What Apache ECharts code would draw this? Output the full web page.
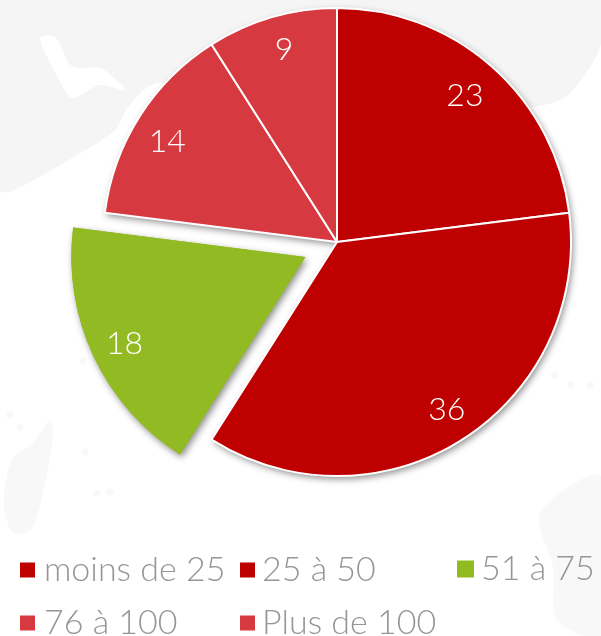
<!DOCTYPE html>
<html>
<head>
<meta charset="utf-8">
<style>
  html, body { margin: 0; padding: 0; background: #fff; }
  #chart { width: 601px; height: 636px; }
</style>
<script src="https://cdn.jsdelivr.net/npm/echarts@6/dist/echarts.min.js"></script>
</head>
<body>
<div id="chart"></div>
<script>
const categories = ['moins de 25', '25 à 50', '51 à 75', '76 à 100', 'Plus de 100']
const values = [23, 36, 18, 14, 9]
const colors = ['#bf0000', '#bf0000', '#92bb23', '#d63a40', '#d63a40']

const total = values.reduce((a, b) => a + b, 0)
const radius = 234
const labelRadius = 198 // labels sit near the rim
const labelNudge = [[-5, 4], [2, -2], [1, 1], [0, 7], [3, 1]]

// where each legend item goes: left, top, marker size, gap before the text
const legendSlots = [
  [20, 553, 15, 4],
  [240, 553, 15, 2],
  [457, 552, 17, 2],
  [20, 606, 15, 4],
  [240, 606, 15, 2],
]

// pale map behind the chart
const grey = '#f5f5f5'
const paleGrey = '#f8f8f8'
const mapShapes = [
  { fill: grey, points: [[0, 0], [601, 0], [601, 43], [590, 67], [565, 97], [533, 107], [450, 110], [337, 100], [158, 83], [128, 107], [115, 130], [60, 165], [10, 192], [0, 190]] },
  { fill: '#fff', points: [[40, 38], [55, 37], [72, 66], [100, 68], [112, 76], [125, 90], [100, 85], [72, 98], [62, 85]] },
  { fill: paleGrey, points: [[601, 477], [601, 636], [557, 620], [553, 567], [540, 513]] },
  { fill: paleGrey, points: [[50, 420], [53, 440], [33, 527], [13, 533], [4, 503], [12, 460], [33, 443]] },
]
const mapDots = [[85, 452], [97, 493], [110, 492], [10, 415], [20, 427], [555, 375], [571, 385], [590, 385], [83, 361]]

const chart = echarts.init(document.getElementById('chart'))

// running total gives each slice's middle angle, used to push its label outward
let running = 0
const midAngles = values.map((v) => {
  const mid = (running + v / 2) / total * Math.PI * 2
  running += v
  return mid
})

const pieBase = {
  type: 'pie',
  center: [337, 242],
  radius: [0, radius],
  startAngle: 90,
  selectedMode: 'multiple',
  selectedOffset: 35,
  emphasis: { disabled: true },
}

const graphicShapes = mapShapes.map((s) => ({
  type: 'polygon',
  z: -10,
  silent: true,
  shape: { points: s.points, smooth: 0.3 },
  style: { fill: s.fill },
}))
const graphicDots = mapDots.map((d) => ({
  type: 'circle',
  z: -10,
  silent: true,
  shape: { cx: d[0], cy: d[1], r: 3.5 },
  style: { fill: paleGrey },
}))

chart.setOption({
  animation: false,
  backgroundColor: '#fff',
  graphic: graphicShapes.concat(graphicDots),
  legend: categories.map((name, i) => ({
    data: [name],
    left: legendSlots[i][0],
    top: legendSlots[i][1],
    padding: 0,
    icon: 'rect',
    itemWidth: legendSlots[i][2],
    itemHeight: legendSlots[i][2],
    itemGap: 0,
    selectedMode: false,
    textStyle: {
      color: '#969696',
      fontFamily: 'Lato',
      fontWeight: 300,
      fontSize: 34,
      padding: [2, 0, 0, legendSlots[i][3]],
    },
  })),
  series: [
    // back layer carries the shadow, so it never falls on a neighbouring slice
    Object.assign({}, pieBase, {
      silent: true,
      label: { show: false },
      labelLine: { show: false },
      data: categories.map((name, i) => ({
        name,
        value: values[i],
        selected: i === 2,
        itemStyle: {
          color: colors[i],
          shadowBlur: 7,
          shadowOffsetX: 2,
          shadowOffsetY: 3,
          shadowColor: 'rgba(0,0,0,0.45)',
        },
      })),
    }),
    Object.assign({}, pieBase, {
      data: categories.map((name, i) => ({
        name,
        value: values[i],
        selected: i === 2,
        itemStyle: {
          color: colors[i],
          borderColor: '#fff',
          borderWidth: i === 2 ? 0 : 2,
        },
      })),
      label: {
        position: 'inside',
        formatter: '{c}',
        color: '#fff',
        fontFamily: 'Lato',
        fontWeight: 300,
        fontSize: 32,
      },
      labelLayout: (params) => {
        const a = midAngles[params.dataIndex]
        const shift = labelRadius - radius / 2
        const nudge = labelNudge[params.dataIndex]
        return { dx: Math.sin(a) * shift + nudge[0], dy: -Math.cos(a) * shift + nudge[1] }
      },
    }),
  ],
})
</script>
</body>
</html>
